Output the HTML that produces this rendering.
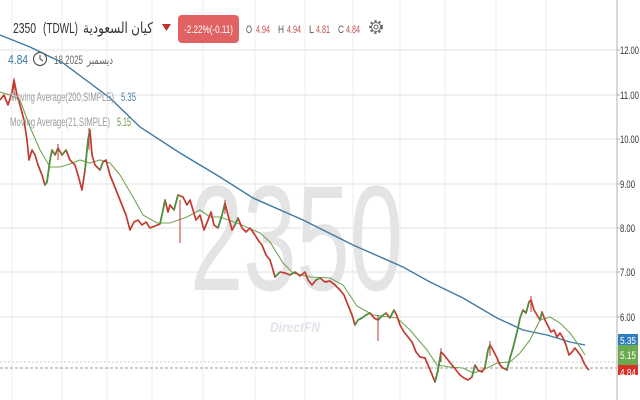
<!DOCTYPE html>
<html><head><meta charset="utf-8"><style>
html,body{margin:0;padding:0;background:#fff;}
svg{display:block;}
text{font-family:"Liberation Sans","DejaVu Sans",sans-serif;}
</style></head><body>
<svg width="640" height="400" viewBox="0 0 640 400" xmlns="http://www.w3.org/2000/svg">
<rect width="640" height="400" fill="#fff"/>
<g stroke="#eeeeee" stroke-width="1">
<line x1="12" y1="0" x2="12" y2="400"/><line x1="62" y1="0" x2="62" y2="400"/>
<line x1="107" y1="0" x2="107" y2="400"/><line x1="152" y1="0" x2="152" y2="400"/>
<line x1="203" y1="0" x2="203" y2="400"/><line x1="255" y1="0" x2="255" y2="400"/>
<line x1="305" y1="0" x2="305" y2="400"/><line x1="353" y1="0" x2="353" y2="400"/>
<line x1="400" y1="0" x2="400" y2="400"/><line x1="445" y1="0" x2="445" y2="400"/>
<line x1="496" y1="0" x2="496" y2="400"/><line x1="546" y1="0" x2="546" y2="400"/>
</g>
<g stroke="#e2e2e2" stroke-width="1">
<line x1="0" y1="50" x2="617" y2="50"/><line x1="0" y1="95" x2="617" y2="95"/>
<line x1="0" y1="139" x2="617" y2="139"/><line x1="0" y1="184" x2="617" y2="184"/>
<line x1="0" y1="228" x2="617" y2="228"/><line x1="0" y1="272" x2="617" y2="272"/>
<line x1="0" y1="317" x2="617" y2="317"/>
</g>
<line x1="0" y1="362" x2="617" y2="362" stroke="#cfcfcf" stroke-width="1" stroke-dasharray="2,2"/>
<line x1="0" y1="368" x2="617" y2="368" stroke="#9a9a9a" stroke-width="1" stroke-dasharray="3,2"/>
<text x="190" y="290" font-size="150" fill="#e4e4e4" textLength="213" lengthAdjust="spacingAndGlyphs">2350</text>
<text x="270" y="332" font-size="14" font-weight="bold" font-style="italic" fill="#dfe3ea" textLength="50" lengthAdjust="spacingAndGlyphs">DirectFN</text>
<line x1="617" y1="0" x2="617" y2="400" stroke="#b0b0b0" stroke-width="1"/>
<g stroke="#b0b0b0"><line x1="617" y1="50" x2="620" y2="50"/><line x1="617" y1="95" x2="620" y2="95"/><line x1="617" y1="139" x2="620" y2="139"/><line x1="617" y1="184" x2="620" y2="184"/><line x1="617" y1="228" x2="620" y2="228"/><line x1="617" y1="272" x2="620" y2="272"/><line x1="617" y1="317" x2="620" y2="317"/></g>
<g font-size="11" fill="#333">
<text x="620" y="54" textLength="19" lengthAdjust="spacingAndGlyphs">12.00</text>
<text x="620" y="99" textLength="19" lengthAdjust="spacingAndGlyphs">11.00</text>
<text x="620" y="143" textLength="19" lengthAdjust="spacingAndGlyphs">10.00</text>
<text x="620" y="188" textLength="15" lengthAdjust="spacingAndGlyphs">9.00</text>
<text x="620" y="232" textLength="15" lengthAdjust="spacingAndGlyphs">8.00</text>
<text x="620" y="276" textLength="15" lengthAdjust="spacingAndGlyphs">7.00</text>
<text x="620" y="321" textLength="15" lengthAdjust="spacingAndGlyphs">6.00</text>
</g>
<polyline fill="none" stroke="#3d7aa6" stroke-width="1.4" points="0,35 30,47 63,63 110,98 140,127 180,153 220,177 253,198 303,220 353,245 403,267 430,282 463,298 497,318 523,330 547,335 570,342 585,345"/>
<polyline fill="none" stroke="#74a452" stroke-width="1.1" points="0,92 10,95 20,100 30,127 40,150 50,167 60,167 67,165 80,160 90,163 100,160 110,163 120,175 133,197 143,215 157,223 170,223 187,217 200,210 210,217 220,217 237,223 260,233 270,242 283,263 293,273 310,277 330,278 343,285 357,306 373,315 397,318 410,330 427,350 437,365 450,367 463,368 473,373 483,370 497,363 510,362 520,353 530,340 540,320 550,317 560,323 570,333 580,347 585,355"/>
<polyline fill="none" stroke="#c23a30" stroke-width="1.7" stroke-linejoin="round" points="0,100 4,95 8,105 12,92 14,80 17,95 20,105 24,120 27,140 29,160 32,150 35,155 38,165 42,175 45,185 47,182 50,160 52,150 55,155 58,148 62,155 66,150 70,160 75,165 78,175 82,190 85,170 88,140 90,130 92,155 95,165 100,170 103,162 106,160 110,175 114,185 118,195 122,205 126,215 130,230 134,222 138,220 142,225 146,222 150,228 155,226 160,224 163,210 165,200 168,212 170,205 174,210 178,195 183,197 187,205 190,200 193,210 196,220 200,215 204,230 208,220 211,212 214,225 218,228 222,215 225,203 228,215 232,230 235,225 238,218 242,228 246,232 250,228 255,235 258,240 262,245 266,255 270,260 273,270 275,277 280,272 285,273 290,275 295,272 300,276 305,272 308,280 312,285 316,280 320,278 325,282 330,281 335,285 340,290 344,295 348,305 352,315 355,325 358,320 362,318 366,315 370,313 374,318 378,320 382,316 386,313 390,318 394,310 397,316 400,325 404,332 408,337 412,342 416,352 420,357 425,358 428,365 431,372 435,382 438,370 441,352 444,355 448,360 452,365 456,370 460,375 464,378 468,380 472,377 475,365 478,370 482,372 485,367 488,350 490,345 493,350 497,358 500,365 503,368 507,370 510,358 513,348 515,340 518,328 520,318 523,310 526,313 529,302 531,300 534,310 537,315 540,320 542,312 545,320 548,326 551,332 554,330 557,337 560,333 563,338 566,345 569,355 572,352 575,348 578,352 581,356 584,363 587,368 589,370"/>
<g fill="none" stroke="#3f9a3f" stroke-width="1.6">
<polyline points="45,185 47,182 50,160 52,150"/>
<polyline points="55,155 58,148"/><polyline points="62,155 66,150"/>
<polyline points="85,170 88,140 90,130"/><polyline points="100,170 103,162"/>
<polyline points="160,224 163,210 165,200"/><polyline points="174,210 178,195"/>
<polyline points="218,228 222,215 225,203"/><polyline points="235,225 238,218"/>
<polyline points="275,277 280,272"/><polyline points="290,275 295,272"/><polyline points="316,280 320,278"/>
<polyline points="355,325 358,320 362,318 366,315 370,313"/><polyline points="378,320 382,316 386,313"/>
<polyline points="390,318 394,310"/>
<polyline points="435,382 438,370 441,352"/><polyline points="472,377 475,365"/>
<polyline points="485,367 488,350 490,345"/><polyline points="507,370 510,358 513,348 515,340 518,328 520,318 523,310"/>
<polyline points="526,313 529,302"/><polyline points="540,320 542,312"/>
</g>
<g stroke="#c23a30" stroke-width="1">
<line x1="180" y1="200" x2="180" y2="243"/><line x1="378" y1="315" x2="378" y2="341"/>
<line x1="14" y1="78" x2="14" y2="95"/><line x1="89" y1="128" x2="89" y2="150"/>
<line x1="531" y1="296" x2="531" y2="312"/>
<line x1="58" y1="144" x2="58" y2="160"/><line x1="225" y1="200" x2="225" y2="214"/>
<line x1="441" y1="348" x2="441" y2="362"/><line x1="490" y1="341" x2="490" y2="356"/>
</g>
<rect x="618" y="334" width="20" height="13" fill="#2f7fbf"/>
<text x="620" y="344" font-size="10" fill="#fff" textLength="16" lengthAdjust="spacingAndGlyphs">5.35</text>
<rect x="618" y="364" width="20" height="11" fill="#d9302a"/>
<text x="620" y="376" font-size="10" fill="#fff" textLength="16" lengthAdjust="spacingAndGlyphs">4.84</text>
<rect x="618" y="345" width="20" height="20" fill="#6aab4f"/>
<text x="620" y="359" font-size="11" fill="#fff" textLength="16" lengthAdjust="spacingAndGlyphs">5.15</text>
<text x="13" y="33" font-size="15" fill="#333" textLength="23" lengthAdjust="spacingAndGlyphs">2350</text>
<text x="43" y="33" font-size="15" fill="#333" textLength="35" lengthAdjust="spacingAndGlyphs">(TDWL)</text>
<text x="83" y="33" font-size="15" fill="#333" textLength="70" lengthAdjust="spacingAndGlyphs">كيان السعودية</text>
<polygon points="162,24 171,24 166.5,31" fill="#c0302a"/>
<rect x="178" y="15" width="61" height="28" rx="4" fill="#e06262"/>
<text x="184" y="33" font-size="11" fill="#fff" textLength="49" lengthAdjust="spacingAndGlyphs">-2.22%(-0.11)</text>
<g font-size="11">
<text x="246" y="33" fill="#555" textLength="6" lengthAdjust="spacingAndGlyphs">O</text>
<text x="256" y="33" fill="#c0504d" textLength="14" lengthAdjust="spacingAndGlyphs">4.94</text>
<text x="278" y="33" fill="#555" textLength="6" lengthAdjust="spacingAndGlyphs">H</text>
<text x="287" y="33" fill="#c0504d" textLength="14" lengthAdjust="spacingAndGlyphs">4.94</text>
<text x="309" y="33" fill="#555" textLength="5" lengthAdjust="spacingAndGlyphs">L</text>
<text x="316" y="33" fill="#c0504d" textLength="14" lengthAdjust="spacingAndGlyphs">4.81</text>
<text x="338" y="33" fill="#555" textLength="6" lengthAdjust="spacingAndGlyphs">C</text>
<text x="346" y="33" fill="#c0504d" textLength="14" lengthAdjust="spacingAndGlyphs">4.84</text>
</g>
<circle cx="376" cy="27" r="6" fill="none" stroke="#666" stroke-width="1.8" stroke-dasharray="2.4,2"/>
<circle cx="376" cy="27" r="4.5" fill="none" stroke="#666" stroke-width="1"/>
<circle cx="376" cy="27" r="2" fill="none" stroke="#666" stroke-width="1"/>
<text x="8" y="64" font-size="13" fill="#3a76a0" textLength="20" lengthAdjust="spacingAndGlyphs">4.84</text>
<circle cx="40" cy="59" r="6.5" fill="#fff" stroke="#555" stroke-width="1.2"/>
<polyline points="40,55 40,59 43,61" fill="none" stroke="#555" stroke-width="1.1"/>
<text x="54" y="64" font-size="12" fill="#666" textLength="29" lengthAdjust="spacingAndGlyphs">18 2025</text>
<text x="87" y="64" font-size="12" fill="#666" textLength="26" lengthAdjust="spacingAndGlyphs">ديسمبر</text>
<text x="10" y="101" font-size="12" fill="#9a9a9a" textLength="104" lengthAdjust="spacingAndGlyphs">Moving Average(200,SIMPLE)</text>
<text x="121" y="101" font-size="12" fill="#4a80a8" textLength="15" lengthAdjust="spacingAndGlyphs">5.35</text>
<text x="10" y="126" font-size="12" fill="#9a9a9a" textLength="100" lengthAdjust="spacingAndGlyphs">Moving Average(21,SIMPLE)</text>
<text x="117" y="126" font-size="12" fill="#6a9a40" textLength="14" lengthAdjust="spacingAndGlyphs">5.15</text>
</svg>
</body></html>
